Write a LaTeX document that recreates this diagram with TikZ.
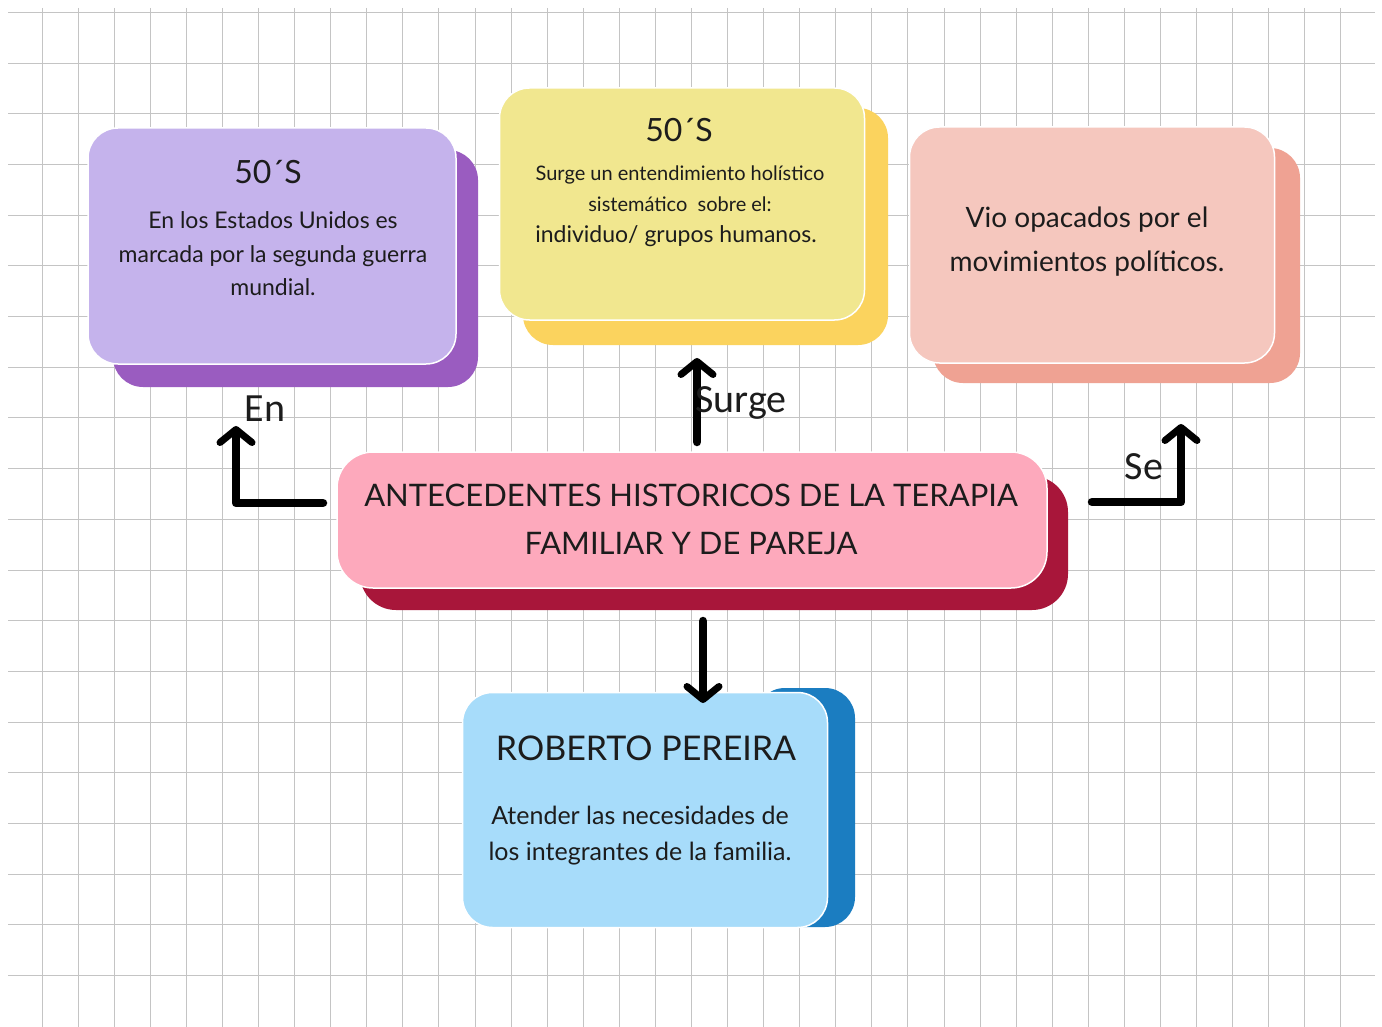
\documentclass[tikz,border=0pt]{standalone}
\usepackage{fontspec}
\setmainfont{Lato}
\newfontfamily\lblfont{Carlito}
\usetikzlibrary{arrows.meta,calc}
\definecolor{lavF}{HTML}{C5B3EC}
\definecolor{lavS}{HTML}{9A5CC0}
\definecolor{yelF}{HTML}{F1E78F}
\definecolor{yelS}{HTML}{FBD35E}
\definecolor{pnkF}{HTML}{F5C7BE}
\definecolor{pnkS}{HTML}{EFA293}
\definecolor{mainF}{HTML}{FDA9BC}
\definecolor{mainS}{HTML}{A8163A}
\definecolor{bluF}{HTML}{A7DCFA}
\definecolor{bluS}{HTML}{1B7DC1}
\definecolor{gridc}{HTML}{C4C4C4}
\definecolor{ink}{HTML}{1C1C1C}
\newcommand{\fs}[1]{\fontsize{#1}{#1}\selectfont}
\begin{document}
\begin{tikzpicture}[x=1pt,y=-1pt,
  card/.style={draw=white, line width=1.5pt, rounded corners=30pt, inner sep=0pt},
  backcard/.style={rounded corners=30pt},
  txt/.style={text=ink, align=center, inner sep=0pt},
  lbl/.style={font=\lblfont\fs{40}, inner sep=0pt, text=ink},
  arr/.style={draw=black, line width=8.5pt, line cap=round, line join=round,
    -{Straight Barb[length=13pt,width=32pt,round,line width=7pt]}},
  gridline/.style={draw=gridc, line width=0.9pt}]
\useasboundingbox (0,0) rectangle (1382,1027);
\fill[white] (0,0) rectangle (1382,1027);
% grid
\foreach \k in {0,...,36} \draw[gridline] ({42+36.08*\k},8) -- ({42+36.08*\k},1027);
\foreach \k in {0,...,19} \draw[gridline] (8,{12.3+50.7*\k}) -- (1375,{12.3+50.7*\k});

% purple card
\fill[lavS, backcard] (113,150) rectangle (478,387);
\node[card, fill=lavF, minimum width=368pt, minimum height=236pt] (b1) at (272,246) {};
\node[txt, font=\fs{32}] (b1t) at (268,172) {50´S};
\node[txt, font=\fontsize{23}{33.5}\selectfont] (b1b) at (273,254) {En los Estados Unidos es\\marcada por la segunda guerra\\mundial.};

% yellow card
\fill[yelS, backcard] (523,108) rectangle (888,345);
\node[card, fill=yelF, minimum width=365pt, minimum height=232pt] (b2) at (682,204) {};
\node[txt, font=\fs{32}] (b2t) at (679,130) {50´S};
\node[txt, font=\fs{20}] (b2a) at (680,175) {Surge un entendimiento holístico};
\node[txt, font=\fs{20}] (b2b) at (680,204) {sistemático\ \ sobre el:};
\node[txt, font=\fs{23}] (b2c) at (676,236) {individuo/ grupos humanos.};

% pink card
\fill[pnkS, backcard] (933,148) rectangle (1300,383);
\node[card, fill=pnkF, minimum width=365pt, minimum height=236pt] (b3) at (1092,245) {};
\node[txt, font=\fontsize{28}{44}\selectfont] (b3b) at (1087,242) {Vio opacados por el\\movimientos políticos.};

% main card
\fill[mainS, rounded corners=36pt] (360,476) rectangle (1068,610);
\node[card, fill=mainF, rounded corners=36pt, minimum width=710pt, minimum height=136pt] (main) at (692,520) {};
\node[txt, font=\fontsize{31}{48}\selectfont] (maint) at (691,519) {ANTECEDENTES HISTORICOS DE LA TERAPIA\\FAMILIAR Y DE PAREJA};

% blue card
\fill[bluS, backcard] (755,688) rectangle (855,927);
\node[card, fill=bluF, minimum width=365pt, minimum height=235pt] (b4) at (645,810) {};
\node[txt, font=\fs{34}] (b4t) at (646,748) {ROBERTO PEREIRA};
\node[txt, font=\fontsize{25}{36}\selectfont] (b4b) at (640,836) {Atender las necesidades de\\los integrantes de la familia.};

% connectors
\coordinate (enS) at (323,503);
\coordinate (enE) at (236,426);
\coordinate (suS) at (697,442);
\coordinate (suE) at (697,358);
\coordinate (seS) at (1092,502);
\coordinate (seE) at (1181,424);
\coordinate (dnS) at (703,621);
\coordinate (dnE) at (703,703);
\draw[arr] (enS) -| (enE);
\draw[arr] (suS) -- (suE);
\draw[arr] (seS) -| (seE);
\draw[arr] (dnS) -- (dnE);

\node[lbl] (lEn) at (265,409) {En};
\node[lbl] (lSurge) at (741,403) {Surge};
\node[lbl] (lSe) at (1144,467) {Se};
\end{tikzpicture}
\end{document}
